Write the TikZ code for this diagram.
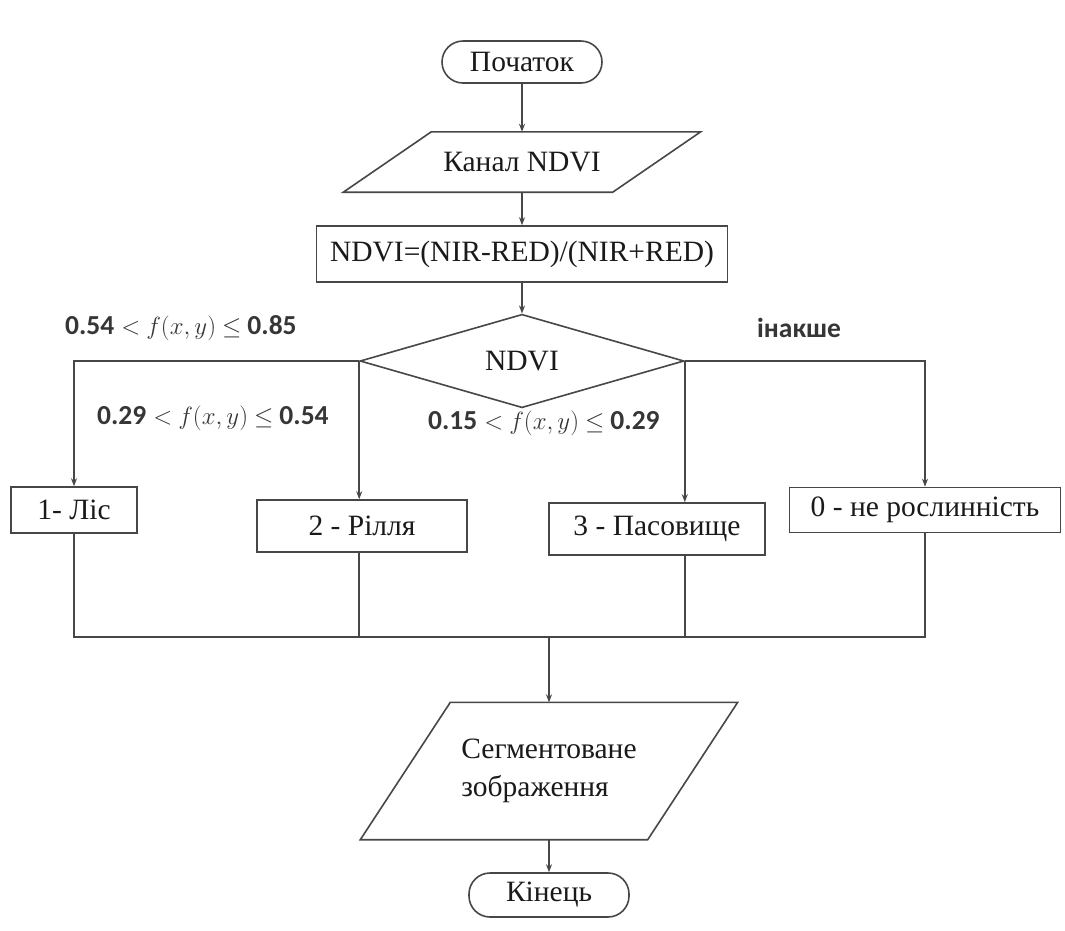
\documentclass[tikz,border=0pt]{standalone}
\usepackage{fontspec}
\setmainfont{Liberation Serif}
\newfontfamily\lblfont{Carlito}
\usetikzlibrary{shapes.geometric,arrows.meta,calc}
\definecolor{linec}{HTML}{474747}
\definecolor{textc}{HTML}{1A1A1A}
\definecolor{lblc}{HTML}{363636}
\newcommand{\fxy}[2]{#1\hspace{7pt}$<$\hspace{6pt}$f(x,y)$\hspace{6pt}$\leq$\hspace{6pt}#2}
\tikzset{
  conn/.style={draw=linec,line width=1.6pt},
  arr/.style={conn,-{Stealth[length=8pt,width=6pt]}},
  mainfont/.style={font=\fontsize{29.5}{34}\selectfont},
  boxst/.style={draw=linec,line width=1.6pt,rectangle,inner sep=0pt,text=textc,mainfont},
  termst/.style={boxst,rounded corners=21pt},
  parast/.style={rectangle,inner sep=0pt,text=textc,mainfont},
  diast/.style={draw=linec,line width=1.6pt,diamond,inner sep=0pt,text=textc,mainfont},
  lbl/.style={text=lblc,inner sep=0pt,font=\lblfont\bfseries\fontsize{27.5}{30}\selectfont}
}
\begin{document}
\begin{tikzpicture}[x=1pt,y=-1pt]
\useasboundingbox[fill=white] (0,0) rectangle (1065,930);
% nodes
\node[termst,minimum width=160pt,minimum height=42pt] (start) at (522,62) {Початок};
\node[parast,minimum width=269pt,minimum height=60pt] (kanal) at (522,162) {Канал NDVI};
\draw[conn] ($(kanal.north west)+(44,0)$) -- ($(kanal.north east)+(44,0)$) -- ($(kanal.south east)+(-44,0)$) -- ($(kanal.south west)+(-44,0)$) -- cycle;
\node[boxst,minimum width=411pt,minimum height=56pt] (formula) at (522,254) {NDVI=(NIR-RED)/(NIR+RED)};
\node[diast,minimum width=324pt,minimum height=69pt] (dia) at (522,361) {NDVI};
\node[boxst,minimum width=126pt,minimum height=46pt] (les) at (74,510) {1- Ліс};
\node[boxst,minimum width=210pt,minimum height=52pt] (rillia) at (362,526) {2 - Рілля};
\node[boxst,minimum width=216pt,minimum height=52pt] (pasov) at (657,529) {3 - Пасовище};
\node[boxst,minimum width=271pt,minimum height=45pt] (nerosl) at (925,510) {0 - не рослинність};
\coordinate (join) at (549,637);
\node[parast,minimum width=287pt,minimum height=137pt,align=left,font=\fontsize{29.5}{38}\selectfont] (segm) at (549,771) {Сегментоване\\зображення};
\draw[conn] ($(segm.north west)+(45,0)$) -- ($(segm.north east)+(45,0)$) -- ($(segm.south east)+(-45,0)$) -- ($(segm.south west)+(-45,0)$) -- cycle;
\node[termst,minimum width=160pt,minimum height=44pt] (end) at (549,895) {Кінець};
% labels
\node[lbl,anchor=west] (l1) at (65,328) {\fxy{0.54}{0.85}};
\node[lbl,anchor=west] (l2) at (97,418) {\fxy{0.29}{0.54}};
\node[lbl,anchor=west] (l3) at (428,423) {\fxy{0.15}{0.29}};
\node[lbl,anchor=west] (l4) at (757,328) {інакше};
% connectors
\draw[arr] (start.south) -- (kanal.north);
\draw[arr] (kanal.south) -- (formula.north);
\draw[arr] (formula.south) -- (dia.north);
\draw[arr] (dia.west) -| (les.north);
\draw[arr] (dia.west) -- (dia.west |- rillia.north);
\draw[arr] (dia.east) -- (dia.east |- pasov.north);
\draw[arr] (dia.east) -| (nerosl.north);
\draw[conn] (les.south) |- (join);
\draw[conn] (nerosl.south) |- (join);
\draw[conn] (dia.west |- rillia.south) -- (dia.west |- join);
\draw[conn] (dia.east |- pasov.south) -- (dia.east |- join);
\draw[arr] (join) -- (segm.north);
\draw[arr] (segm.south) -- (end.north);
\end{tikzpicture}
\end{document}
